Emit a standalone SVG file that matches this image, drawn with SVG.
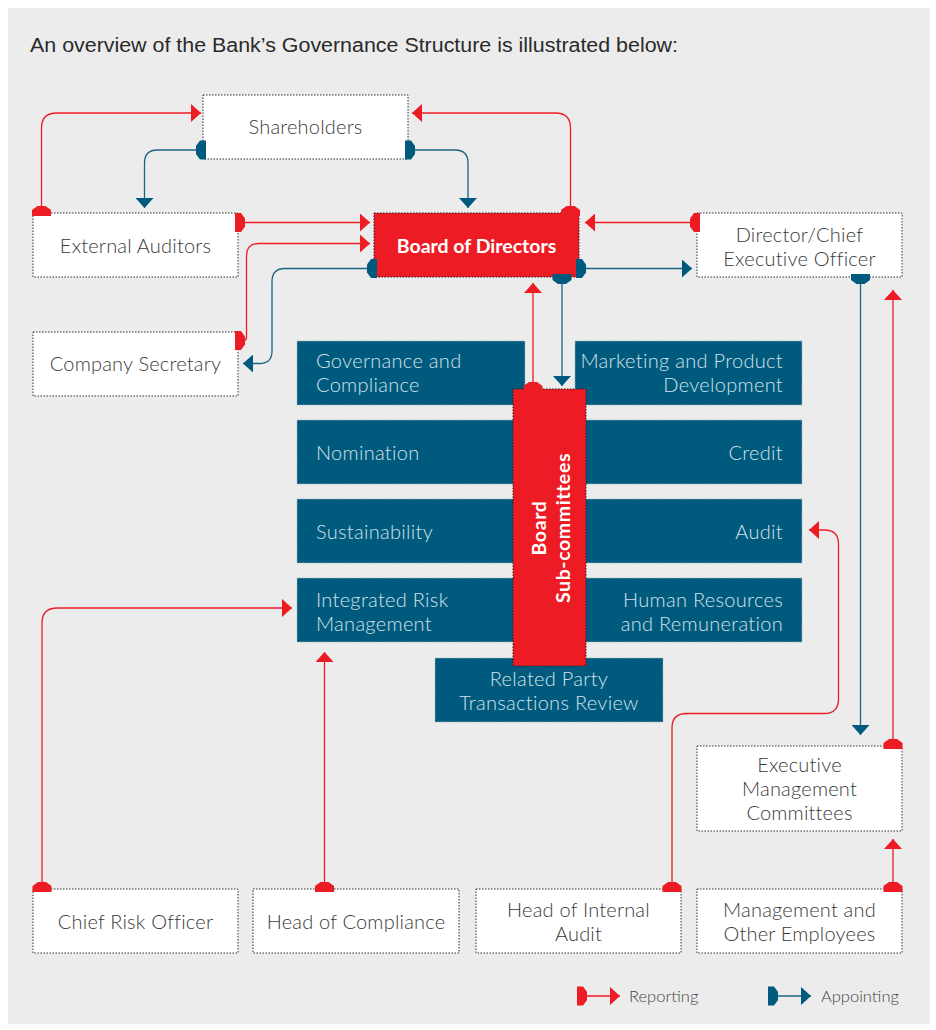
<svg xmlns="http://www.w3.org/2000/svg" width="936" height="1030" viewBox="0 0 936 1030">
<style>
.bg{fill:#ececec}
.wbox{fill:#ffffff;stroke:#333;stroke-width:1;stroke-dasharray:1.5 1.5}
.bbox{fill:#005a7d;stroke:#9fb5c0;stroke-width:1;stroke-dasharray:1.5 1.5}
.rbox{fill:#ed1c24;stroke:#222;stroke-width:1;stroke-dasharray:1.5 1.5}
.wt{font-family:Lato,"Liberation Sans",sans-serif;font-weight:300;font-size:20px;letter-spacing:0.2px;fill:#3a3a3a}
.bt{font-family:Lato,"Liberation Sans",sans-serif;font-weight:300;font-size:20px;letter-spacing:0.3px;fill:#d2e2ea}
.rt{font-family:Lato,"Liberation Sans",sans-serif;font-weight:700;font-size:19.5px;fill:#ffffff}
.c{text-anchor:middle}
.e{text-anchor:end}
.rep{fill:none;stroke:#ed1c24;stroke-width:1.3;marker-start:url(#tabR);marker-end:url(#arrR)}
.app{fill:none;stroke:#1b6585;stroke-width:1.3;marker-start:url(#tabB);marker-end:url(#arrB)}
.lg{font-family:Lato,"Liberation Sans",sans-serif;font-weight:300;font-size:16.5px;fill:#444}
</style>
<defs>
<marker id="arrR" markerUnits="userSpaceOnUse" viewBox="0 0 10 18" refX="10" refY="9" markerWidth="10" markerHeight="18" orient="auto"><path d="M0,0 L10,9 L0,18 Z" fill="#ed1c24"/></marker>
<marker id="arrB" markerUnits="userSpaceOnUse" viewBox="0 0 10 18" refX="10" refY="9" markerWidth="10" markerHeight="18" orient="auto"><path d="M0,0 L10,9 L0,18 Z" fill="#005a7d"/></marker>
<marker id="tabR" markerUnits="userSpaceOnUse" viewBox="-3 -10 11 20" refX="0" refY="0" markerWidth="11" markerHeight="20" orient="auto"><path d="M-3,-9.5 L3,-9.5 L7,-4 L7,4 L3,9.5 L-3,9.5 Z" fill="#ed1c24"/></marker>
<marker id="tabB" markerUnits="userSpaceOnUse" viewBox="-3 -10 11 20" refX="0" refY="0" markerWidth="11" markerHeight="20" orient="auto"><path d="M-3,-9.5 L3,-9.5 L7,-4 L7,4 L3,9.5 L-3,9.5 Z" fill="#005a7d"/></marker>
</defs>
<rect x="0" y="0" width="936" height="1030" fill="#ffffff"/>
<rect class="bg" x="8" y="8" width="922" height="1016"/>
<text x="30" y="52" font-family="'Liberation Sans',Arial,sans-serif" font-size="20" fill="#2a2a2a" textLength="648" lengthAdjust="spacingAndGlyphs">An overview of the Bank’s Governance Structure is illustrated below:</text>

<g id="shareholders"><rect class="wbox" x="203" y="95" width="205" height="64"/><text class="wt c" x="305.5" y="134">Shareholders</text></g>
<g id="external-auditors"><rect class="wbox" x="33" y="213" width="205" height="64"/><text class="wt c" x="135.5" y="253">External Auditors</text></g>
<g id="board-of-directors"><rect class="rbox" x="374" y="213" width="205" height="64"/><text class="rt c" x="476.5" y="253">Board of Directors</text></g>
<g id="ceo"><rect class="wbox" x="697" y="213" width="205" height="64"/><text class="wt c" x="799.5" y="242">Director/Chief</text><text class="wt c" x="799.5" y="266">Executive Officer</text></g>
<g id="company-secretary"><rect class="wbox" x="33" y="332" width="205" height="64"/><text class="wt c" x="135.5" y="371">Company Secretary</text></g>

<g id="governance"><rect class="bbox" x="297" y="341" width="228" height="64"/><text class="bt" x="316" y="368">Governance and</text><text class="bt" x="316" y="392">Compliance</text></g>
<g id="marketing"><rect class="bbox" x="575" y="341" width="227" height="64"/><text class="bt e" x="783" y="368">Marketing and Product</text><text class="bt e" x="783" y="392">Development</text></g>
<g id="nomination"><rect class="bbox" x="297" y="420" width="228" height="64"/><text class="bt" x="316" y="460">Nomination</text></g>
<g id="credit"><rect class="bbox" x="575" y="420" width="227" height="64"/><text class="bt e" x="783" y="460">Credit</text></g>
<g id="sustainability"><rect class="bbox" x="297" y="499" width="228" height="64"/><text class="bt" x="316" y="539">Sustainability</text></g>
<g id="audit"><rect class="bbox" x="575" y="499" width="227" height="64"/><text class="bt e" x="783" y="539">Audit</text></g>
<g id="integrated-risk"><rect class="bbox" x="297" y="578" width="228" height="64"/><text class="bt" x="316" y="607">Integrated Risk</text><text class="bt" x="316" y="631">Management</text></g>
<g id="human-resources"><rect class="bbox" x="575" y="578" width="227" height="64"/><text class="bt e" x="783" y="607">Human Resources</text><text class="bt e" x="783" y="631">and Remuneration</text></g>
<g id="related-party"><rect class="bbox" x="435" y="658" width="228" height="64"/><text class="bt c" x="549" y="686">Related Party</text><text class="bt c" x="549" y="710">Transactions Review</text></g>
<g id="board-subcommittees"><rect class="rbox" x="513" y="389" width="73" height="277"/><text class="rt c" transform="translate(549.5,528) rotate(-90)" y="-4" style="letter-spacing:0.6px">Board</text><text class="rt c" transform="translate(549.5,528) rotate(-90)" y="20" style="letter-spacing:0.6px">Sub-committees</text></g>

<g id="executive-management"><rect class="wbox" x="697" y="746" width="205" height="85"/><text class="wt c" x="799.5" y="772">Executive</text><text class="wt c" x="799.5" y="796">Management</text><text class="wt c" x="799.5" y="820">Committees</text></g>
<g id="chief-risk-officer"><rect class="wbox" x="33" y="889" width="205" height="64"/><text class="wt c" x="135.5" y="929">Chief Risk Officer</text></g>
<g id="head-of-compliance"><rect class="wbox" x="253" y="889" width="206" height="64"/><text class="wt c" x="356" y="929">Head of Compliance</text></g>
<g id="head-of-internal-audit"><rect class="wbox" x="476" y="889" width="205" height="64"/><text class="wt c" x="578.5" y="917">Head of Internal</text><text class="wt c" x="578.5" y="941">Audit</text></g>
<g id="management-employees"><rect class="wbox" x="697" y="889" width="205" height="64"/><text class="wt c" x="799.5" y="917">Management and</text><text class="wt c" x="799.5" y="941">Other Employees</text></g>

<g id="connectors">
<path class="rep" d="M41.5,213 V128 Q41.5,113 56.5,113 H201"/>
<path class="rep" d="M570.5,213 V128 Q570.5,113 555.5,113 H412"/>
<path class="app" d="M203,150 H157.5 Q144.5,150 144.5,163 V208"/>
<path class="app" d="M408,150 H455 Q468,150 468,163 V208"/>
<path class="rep" d="M238,222.5 H370"/>
<path class="rep" d="M238,340.5 H243.5 Q246.5,340.5 246.5,337.5 V256 Q246.5,243.5 259,243.5 H370"/>
<path class="app" d="M374,268.5 H285 Q272,268.5 272,281.5 V351 Q272,363.5 259.5,363.5 H243"/>
<path class="rep" d="M697,222.5 H585"/>
<path class="app" d="M579,268.5 H692"/>
<path class="app" d="M860.5,277 V735"/>
<path class="rep" d="M893,746 V290"/>
<path class="rep" d="M893,889 V839"/>
<path class="rep" d="M672,889 V728 Q672,713.5 686.5,713.5 H824 Q838.5,713.5 838.5,699 V544 Q838.5,530 824.5,530 H809"/>
<path class="rep" d="M42,889 V623 Q42,608 57,608 H292"/>
<path class="rep" d="M324.5,889 V652"/>
<path class="rep" d="M533,389 V283"/>
<path class="app" d="M562,277 V386"/>
</g>

<g id="legend">
<path class="rep" d="M580,996 H620"/>
<text class="lg" x="629" y="1002">Reporting</text>
<path class="app" d="M771,996 H811"/>
<text class="lg" x="821" y="1002">Appointing</text>
</g>
</svg>
